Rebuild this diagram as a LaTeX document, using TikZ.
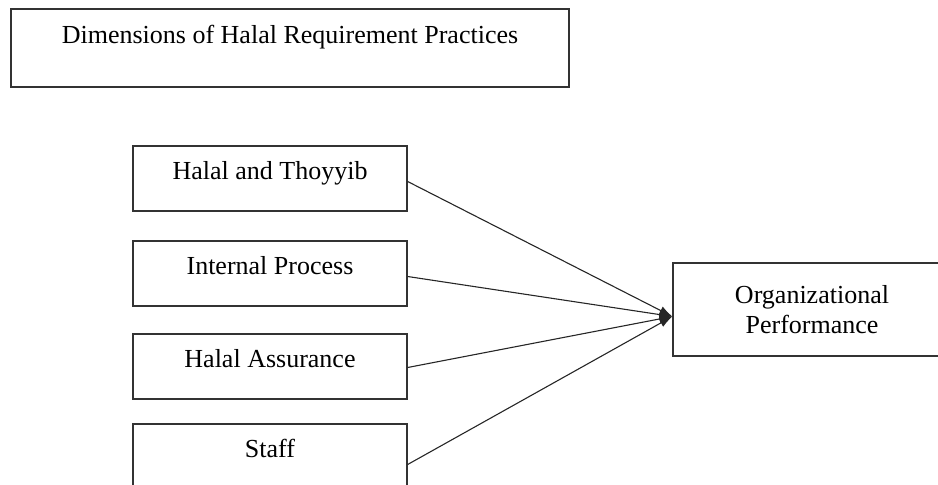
\documentclass[tikz,border=0pt]{standalone}
\usepackage{fontspec}
\setmainfont{Liberation Serif}
\usepackage{tikz}
\usetikzlibrary{arrows.meta,positioning}

\begin{document}
\begin{tikzpicture}[x=1pt, y=-1pt,
  dimbox/.style={rectangle, draw=black!80, line width=1.3pt, inner xsep=0pt, inner ysep=0pt,
    font=\fontsize{26}{30}\selectfont},
  practice/.style={dimbox, minimum width=274pt, text height=33pt, text depth=32pt},
  effect/.style={->, >={Latex[length=13pt,width=9pt]}, line width=1.1pt, black!85}
]
\clip (0,0) rectangle (938,485);
\useasboundingbox (0,0) rectangle (938,485);

% Heading box
\node[dimbox, minimum width=558pt, text height=34pt, text depth=44pt] (dims) at (290,48) {Dimensions of Halal Requirement Practices};

% Practices
\node[practice] (thoyyib) at (270,178.5) {Halal and Thoyyib};
\node[practice] (process) at (270,273.5) {Internal Process};
\node[practice] (assurance) at (270,366.5) {Halal Assurance};
\node[practice] (staff) at (270,456.5) {Staff};

% Outcome
\node[dimbox, minimum width=278pt, minimum height=93pt, align=center] (perf) at (812,309.5) {Organizational\\Performance};

% Effects
\coordinate (tip) at ([yshift=-7pt]perf.west);
\draw[effect] ([yshift=-3pt]thoyyib.east) -- (tip);
\draw[effect] ([yshift=-3pt]process.east) -- (tip);
\draw[effect] ([yshift=-1pt]assurance.east) -- (tip);
\draw[effect] ([yshift=-8pt]staff.east) -- (tip);

\end{tikzpicture}
\end{document}
